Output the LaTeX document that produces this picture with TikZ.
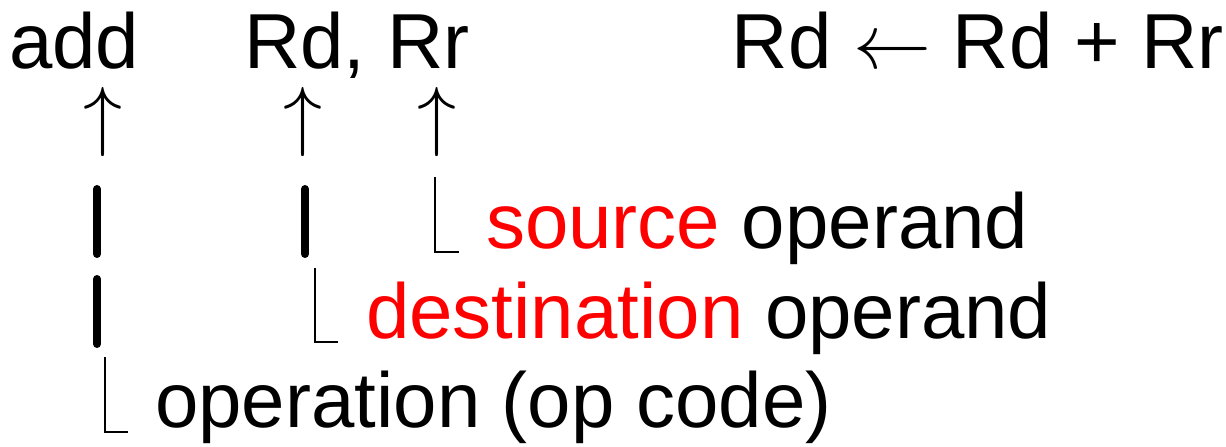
\documentclass[tikz,border=0pt]{standalone}
\usepackage{fix-cm}
\usepackage{fontspec}
\setmainfont{Liberation Sans}
\definecolor{hired}{RGB}{255,0,0}
\begin{document}
\begin{tikzpicture}[x=1pt,y=-1pt,
  txt/.style={inner sep=0pt, anchor=base west, font=\fontsize{78}{90}\selectfont},
  arr/.style={inner sep=0pt, font=\fontsize{78}{90}\selectfont},
  bar/.style={line width=8pt, line cap=round},
  corner/.style={line width=2pt}]
\useasboundingbox (0,0) rectangle (1226,447);
% first line
\node[txt] (add) at (9,68) {add};
\node[txt] (regs) at (244,68) {Rd, Rr};
\node[txt, anchor=base east] (rtl) at (1224,68) {Rd $\leftarrow$ Rd + Rr};
% arrows
\node[arr] (u1) at (103,122) {$\uparrow$};
\node[arr] (u2) at (303,122) {$\uparrow$};
\node[arr] (u3) at (437,122) {$\uparrow$};
% bars
\draw[bar] (97,189) -- (97,254);
\draw[bar] (97,279) -- (97,344);
\draw[bar] (305,189) -- (305,254);
% corners
\draw[corner] (435,177) |- (459,252);
\draw[corner] (315,268) |- (338,342);
\draw[corner] (105,357) |- (128,432);
% labels
\node[txt] (src) at (486,248) {{\color{hired}source} operand};
\node[txt] (dst) at (366,338) {{\color{hired}destination} operand};
\node[txt] (op) at (155,427) {operation (op code)};
\end{tikzpicture}
\end{document}
